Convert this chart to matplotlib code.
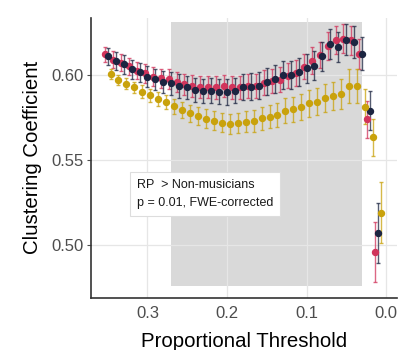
import numpy as np
import matplotlib
matplotlib.use("Agg")
import matplotlib.pyplot as plt

plt.rcParams['font.family'] = ['Liberation Sans', 'DejaVu Sans']

# proportional thresholds (0.35 -> 0.01)
thresh = [0.35, 0.34, 0.33, 0.32, 0.31, 0.30, 0.29, 0.28, 0.27, 0.26,
          0.25, 0.24, 0.23, 0.22, 0.21, 0.20, 0.19, 0.18, 0.17, 0.16,
          0.15, 0.14, 0.13, 0.12, 0.11, 0.10, 0.09, 0.08, 0.07, 0.06,
          0.05, 0.04, 0.03, 0.02, 0.01]

red_mean = [0.6120, 0.6090, 0.6070, 0.6050, 0.6025, 0.6010, 0.5990, 0.5980, 0.5976, 0.5958,
            0.5945, 0.5935, 0.5931, 0.5927, 0.5927, 0.5935, 0.5927, 0.5927, 0.5935, 0.5937,
            0.5955, 0.5965, 0.5971, 0.5994, 0.6010, 0.6049, 0.6084, 0.6118, 0.6169, 0.6206,
            0.6212, 0.6202, 0.6122, 0.5739, 0.4960]
red_err = [0.0045, 0.0048, 0.0050, 0.0050, 0.0052, 0.0055, 0.0055, 0.0057, 0.0060, 0.0060,
           0.0062, 0.0063, 0.0065, 0.0065, 0.0066, 0.0067, 0.0068, 0.0068, 0.0070, 0.0070,
           0.0072, 0.0072, 0.0073, 0.0074, 0.0075, 0.0076, 0.0077, 0.0078, 0.0080, 0.0082,
           0.0085, 0.0085, 0.0088, 0.0110, 0.0175]

navy_mean = [0.6108, 0.6082, 0.6063, 0.6033, 0.6014, 0.5990, 0.5975, 0.5960, 0.5950, 0.5935,
             0.5926, 0.5912, 0.5906, 0.5908, 0.5902, 0.5898, 0.5908, 0.5927, 0.5931, 0.5937,
             0.5960, 0.5975, 0.6000, 0.6000, 0.6016, 0.6039, 0.6055, 0.6108, 0.6180, 0.6163,
             0.6206, 0.6196, 0.6124, 0.5790, 0.5070]
navy_err = [0.0050, 0.0053, 0.0055, 0.0057, 0.0058, 0.0060, 0.0062, 0.0064, 0.0066, 0.0068,
            0.0070, 0.0071, 0.0072, 0.0073, 0.0074, 0.0075, 0.0076, 0.0077, 0.0078, 0.0079,
            0.0080, 0.0081, 0.0082, 0.0083, 0.0084, 0.0085, 0.0086, 0.0087, 0.0088, 0.0090,
            0.0092, 0.0094, 0.0096, 0.0115, 0.0175]

yel_mean = [0.6006, 0.5970, 0.5947, 0.5927, 0.5902, 0.5880, 0.5859, 0.5841, 0.5816, 0.5794,
            0.5775, 0.5759, 0.5743, 0.5731, 0.5720, 0.5712, 0.5716, 0.5724, 0.5728, 0.5745,
            0.5755, 0.5765, 0.5790, 0.5798, 0.5810, 0.5833, 0.5843, 0.5864, 0.5876, 0.5888,
            0.5935, 0.5937, 0.5814, 0.5633, 0.5190]
yel_err = [0.0028, 0.0030, 0.0032, 0.0034, 0.0036, 0.0038, 0.0040, 0.0042, 0.0045, 0.0048,
           0.0050, 0.0052, 0.0054, 0.0056, 0.0057, 0.0058, 0.0060, 0.0062, 0.0064, 0.0066,
           0.0068, 0.0070, 0.0072, 0.0074, 0.0076, 0.0078, 0.0080, 0.0082, 0.0085, 0.0088,
           0.0100, 0.0100, 0.0103, 0.0110, 0.0180]

sig_from, sig_to = 0.27, 0.03  # significant threshold range
note = "RP  > Non-musicians\np = 0.01, FWE-corrected"

fig = plt.figure(figsize=(4.01, 3.5), dpi=100)
ax = fig.add_axes([0.227, 0.149, 0.763, 0.8])

ax.fill_between([sig_from, sig_to], 0.476, 0.631, color='#d9d9d9', zorder=0.5, linewidth=0)
ax.grid(True, color='#e6e6e6', linewidth=0.9, zorder=0.6)
ax.set_axisbelow(True)

x = np.array(thresh)
d = 0.0035
series = [(x + d, red_mean, red_err, '#d1345b'),
          (x, navy_mean, navy_err, '#1c2541'),
          (x - d, yel_mean, yel_err, '#c9a20c')]
for xs, m, e, c in series:
    eb = ax.errorbar(xs, m, yerr=e, fmt='o', color=c, ms=4.3, elinewidth=1.0,
                     capsize=1.7, capthick=1.0, zorder=3)
    for art in eb[1] + eb[2]:
        art.set_alpha(0.75)

ax.text(0.313, 0.5300, note, ha='left', va='center', fontsize=9, linespacing=1.6,
        color='#1a1a1a', zorder=5,
        bbox=dict(boxstyle='square,pad=0.55', facecolor='white', edgecolor='#dddddd', linewidth=0.8))

ax.set_xlim(0.371, -0.0138)
ax.set_ylim(0.469, 0.6335)
ax.set_xticks([0.3, 0.2, 0.1, 0.0])
ax.set_xticklabels(['0.3', '0.2', '0.1', '0.0'])
ax.set_yticks([0.50, 0.55, 0.60])
ax.set_yticklabels(['0.50', '0.55', '0.60'])
ax.tick_params(labelsize=12, colors='#4d4d4d', length=3, width=0.8, pad=2)
ax.tick_params(axis='x', length=0, pad=6)

for s in ['top', 'right']:
    ax.spines[s].set_visible(False)
for s in ['left', 'bottom']:
    ax.spines[s].set_color('#333333')
    ax.spines[s].set_linewidth(1.2)

ax.set_xlabel('Proportional Threshold', fontsize=14.7, color='black', labelpad=8)
ax.set_ylabel('Clustering Coefficient', fontsize=14.7, color='black', labelpad=7)

fig.savefig('out.png', dpi=100)
